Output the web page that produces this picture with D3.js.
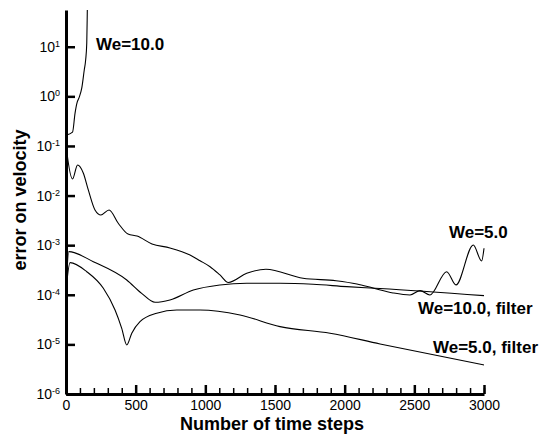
<!DOCTYPE html>
<html lang="en">
<head>
<meta charset="UTF-8">
<title>error on velocity</title>
<script src="https://cdn.jsdelivr.net/npm/d3@7"></script>
<style>
    body { margin: 0; background: #fff; }
    svg text { font-family: Arial, "Liberation Sans", sans-serif; fill: #000; }
    .axis path { fill: none; stroke: #000; }
    .curve { fill: none; stroke: #000; stroke-width: 1.1; }
</style>
</head>
<body>
<script>
var width = 539;
var height = 436;

// We=10.0 (blows up)
var we10Steps = [0, 47, 65, 79, 93, 113, 131, 141, 149, 153, 156];
var we10Err   = [0.165, 0.19, 0.46, 0.74, 0.93, 1.46, 3.4, 5.4, 11.9, 55, 200];

// We=5.0
var we5Steps = [0, 7, 47, 83, 124, 160, 208, 251, 309, 375, 445, 510, 617, 746, 890, 962, 1034,
                1105, 1165, 1297, 1435, 1701, 1938, 2088, 2203, 2347, 2469, 2541, 2612, 2732,
                2799, 2923, 2983, 3000];
var we5Err   = [0.105, 0.072, 0.0216, 0.0414, 0.0286, 0.0130, 0.00513, 0.00406, 0.00513, 0.00277,
                0.00168, 0.00153, 0.00106, 0.00088, 0.000634, 0.000486, 0.000368, 0.000251, 0.000177,
                0.000271, 0.000327, 0.000215, 0.000192, 0.000165, 0.000137, 0.000109, 0.000099,
                0.000121, 0.000099, 0.000292, 0.000158, 0.00101, 0.00048, 0.000865];

// We=10.0, filter
var we10fSteps = [0, 20, 196, 436, 543, 639, 746, 914, 1105, 1297, 1536, 1773, 2015, 2254, 3000];
var we10fErr   = [0.0001, 0.00074, 0.000465, 0.000199, 0.000107, 0.0000706, 0.0000785, 0.000125,
                  0.000158, 0.000171, 0.000171, 0.000163, 0.000146, 0.000134, 0.000096];

// We=5.0, filter
var we5fSteps = [0, 29, 149, 268, 352, 400, 436, 472, 531, 651, 795, 962, 1249, 1536, 1895, 2254, 3000];
var we5fErr   = [0.00012, 0.000444, 0.000292, 0.000135, 0.0000494, 0.0000211, 0.00000973, 0.0000168,
                 0.0000287, 0.0000424, 0.0000494, 0.0000494, 0.0000392, 0.0000228, 0.0000168,
                 0.0000102, 0.00000385];

var xMajor = [0, 500, 1000, 1500, 2000, 2500, 3000];
var xMinor = d3.range(0, 3001, 100);
var yExps  = [-6, -5, -4, -3, -2, -1, 0, 1];

var svg = d3.select("body").append("svg")
    .attr("width", width)
    .attr("height", height);

var x = d3.scaleLinear().domain([0, 3000]).range([66, 484]);
var y = d3.scaleLog().domain([1e-6, 55]).range([394, 10]);

svg.append("defs").append("clipPath").attr("id", "plot")
    .append("rect").attr("x", 60).attr("y", 10).attr("width", 430).attr("height", 384);

// curves
var line = d3.line()
    .x(function(d){ return x(d[0]); })
    .y(function(d){ return y(d[1]); })
    .curve(d3.curveMonotoneX);

var series = [
    [we10Steps, we10Err],
    [we5Steps, we5Err],
    [we10fSteps, we10fErr],
    [we5fSteps, we5fErr]
];

svg.append("g").attr("clip-path", "url(#plot)")
    .selectAll("path")
    .data(series)
    .enter()
    .append("path")
    .attr("class", "curve")
    .attr("d", function(s){ return line(d3.zip(s[0], s[1])); });

// x axis: minor then major
var xMinorAxis = svg.append("g")
    .attr("class", "axis")
    .attr("transform", "translate(0,394)")
    .call(d3.axisBottom(x).tickValues(xMinor).tickSizeInner(-6).tickSizeOuter(0).tickFormat(""));
xMinorAxis.select(".domain").remove();
xMinorAxis.selectAll(".tick line").attr("stroke", "#000").attr("stroke-width", 1.5);

var xAxis = svg.append("g")
    .attr("class", "axis")
    .attr("transform", "translate(0,394)")
    .call(d3.axisBottom(x).tickValues(xMajor).tickSizeInner(-9).tickSizeOuter(0)
        .tickPadding(6).tickFormat(d3.format("d")));
xAxis.select(".domain").attr("stroke-width", 3);
xAxis.selectAll(".tick line").attr("stroke", "#000").attr("stroke-width", 2.5);
xAxis.selectAll("text").attr("font-size", 14).attr("font-family", null);

// y axis
var yAxis = svg.append("g")
    .attr("class", "axis")
    .attr("transform", "translate(66,0)")
    .call(d3.axisLeft(y).tickValues(yExps.map(function(e){ return Math.pow(10, e); }))
        .tickSizeInner(-9).tickSizeOuter(0).tickFormat(""));
yAxis.select(".domain").attr("stroke-width", 3);
yAxis.selectAll(".tick line").attr("stroke", "#000").attr("stroke-width", 2.5);

var yLab = svg.append("g").selectAll("text")
    .data(yExps)
    .enter()
    .append("text")
    .attr("x", 60)
    .attr("y", function(e){ return y(Math.pow(10, e)) + 5; })
    .attr("text-anchor", "end")
    .attr("font-size", 14);
yLab.append("tspan").text("10");
yLab.append("tspan").attr("dy", -5).attr("font-size", 9).text(function(e){ return e; });

// axis titles
svg.append("text")
    .attr("x", 272).attr("y", 430)
    .attr("text-anchor", "middle")
    .attr("font-size", 18).attr("font-weight", "bold")
    .text("Number of time steps");

svg.append("text")
    .attr("transform", "translate(26,200) rotate(-90)")
    .attr("text-anchor", "middle")
    .attr("font-size", 18).attr("font-weight", "bold")
    .text("error on velocity");

// curve labels
var labels = [
    ["We=10.0", 96, 50],
    ["We=5.0", 449, 238],
    ["We=10.0, filter", 418, 314],
    ["We=5.0, filter", 433, 353]
];
svg.append("g").selectAll("text")
    .data(labels)
    .enter()
    .append("text")
    .attr("x", function(d){ return d[1]; })
    .attr("y", function(d){ return d[2]; })
    .attr("font-size", 17).attr("font-weight", "bold")
    .text(function(d){ return d[0]; });
</script>
</body>
</html>
